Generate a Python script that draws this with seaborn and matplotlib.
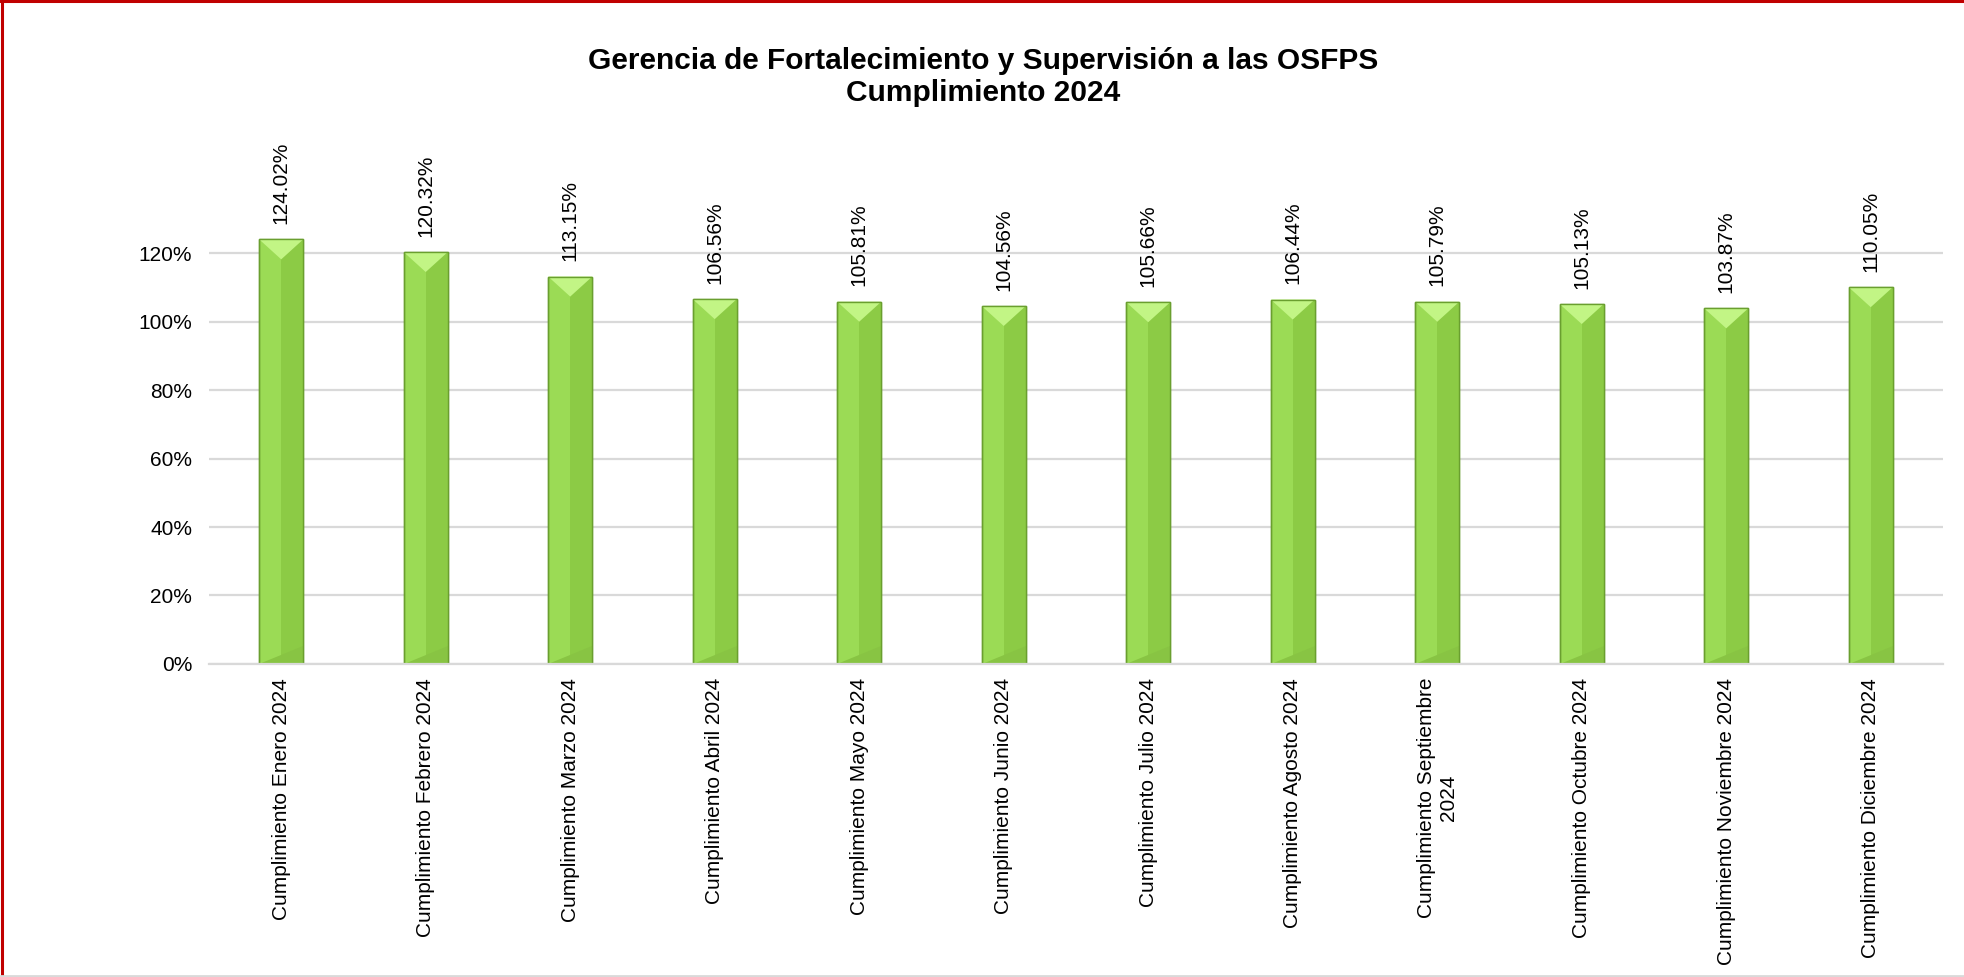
import matplotlib
matplotlib.use("Agg")
import matplotlib.pyplot as plt
from matplotlib.patches import Polygon, Rectangle
from matplotlib.ticker import PercentFormatter
import pandas as pd
import seaborn as sns

months = [
    "Cumplimiento Enero 2024",
    "Cumplimiento Febrero 2024",
    "Cumplimiento Marzo 2024",
    "Cumplimiento Abril 2024",
    "Cumplimiento Mayo 2024",
    "Cumplimiento Junio 2024",
    "Cumplimiento Julio 2024",
    "Cumplimiento Agosto 2024",
    "Cumplimiento Septiembre\n2024",
    "Cumplimiento Octubre 2024",
    "Cumplimiento Noviembre 2024",
    "Cumplimiento Diciembre 2024",
]
cumplimiento = [1.2402, 1.2032, 1.1315, 1.0656, 1.0581, 1.0456,
                1.0566, 1.0644, 1.0579, 1.0513, 1.0387, 1.1005]
y_ticks = [0, 0.2, 0.4, 0.6, 0.8, 1.0, 1.2]
title = "Gerencia de Fortalecimiento y Supervisión a las OSFPS\nCumplimiento 2024"

sns.set_style("white")
plt.rcParams["font.family"] = ["Liberation Sans", "DejaVu Sans"]
plt.rcParams["text.color"] = "black"

df = pd.DataFrame({"mes": months, "valor": cumplimiento})

fig = plt.figure(figsize=(19.64, 9.77), dpi=100)
ax = fig.add_axes([0.1064, 0.3204, 0.8829, 0.4906])

sns.barplot(data=df, x="mes", y="valor", color="#9bdb55", width=0.305,
            edgecolor="#6a9f2f", linewidth=1.0, saturation=1, ax=ax)

ax.set_ylim(0, 1.4)
ax.set_xlim(-0.5, len(months) - 0.5)
ax.set_yticks(y_ticks)
ax.yaxis.set_major_formatter(PercentFormatter(1.0, decimals=0))
ax.grid(axis="y", color="#d9d9d9", linewidth=1.6)
ax.set_axisbelow(True)
for side in ["top", "right", "left"]:
    ax.spines[side].set_visible(False)
ax.spines["bottom"].set_color("#d9d9d9")
ax.spines["bottom"].set_linewidth(1.6)
ax.tick_params(axis="both", length=0, labelsize=15, colors="black")
ax.tick_params(axis="x", pad=10)
ax.tick_params(axis="y", pad=12)
ax.set_xticks(range(len(months)))
ax.set_xticklabels(months, rotation=90, ha="center", va="top",
                   multialignment="center")
ax.set_xlabel("")
ax.set_ylabel("")

# bevel shading on each bar, from the bar geometry
fig.canvas.draw()
px_per_unit = ax.transData.transform((0, 1))[1] - ax.transData.transform((0, 0))[1]
bevel = 20 / px_per_unit
for p in ax.patches:
    x0, w, h = p.get_x(), p.get_width(), p.get_height()
    xm = x0 + w / 2
    ax.add_patch(Rectangle((xm, 0), w / 2, h, facecolor="#8ccb45",
                           edgecolor="none", zorder=p.get_zorder() + 0.1))
    ax.add_patch(Polygon([(x0, h), (x0 + w, h), (xm, h - bevel)],
                         closed=True, facecolor="#c2f585", edgecolor="none",
                         zorder=p.get_zorder() + 0.2))
    ax.add_patch(Polygon([(x0, 0), (x0 + w, 0), (x0 + w, bevel * 0.9)],
                         closed=True, facecolor="#88c443", edgecolor="none",
                         zorder=p.get_zorder() + 0.2))
    ax.add_patch(Rectangle((x0, 0), w, h, facecolor="none",
                           edgecolor="#6a9f2f", linewidth=1.0,
                           zorder=p.get_zorder() + 0.3))

for i, v in enumerate(cumplimiento):
    ax.annotate(f"{v * 100:.2f}%", (i, v), xytext=(0, 11),
                textcoords="offset points", rotation=90, ha="center",
                va="bottom", fontsize=15, color="black", annotation_clip=False)

fig.text(0.5005, 0.921, title, ha="center", va="center", fontsize=21.5,
         fontweight="bold", linespacing=1.2, color="black")

# frame of the chart object
fig.add_artist(plt.Line2D([0, 1], [0.999, 0.999], color="#c00000",
                          linewidth=2.2, transform=fig.transFigure))
fig.add_artist(plt.Line2D([0.0008, 0.0008], [0, 1], color="#c00000",
                          linewidth=2.2, transform=fig.transFigure))
fig.add_artist(plt.Line2D([0, 1], [0.0015, 0.0015], color="#d9d9d9",
                          linewidth=2, transform=fig.transFigure))

fig.savefig("out.png", dpi=100, facecolor="white")
